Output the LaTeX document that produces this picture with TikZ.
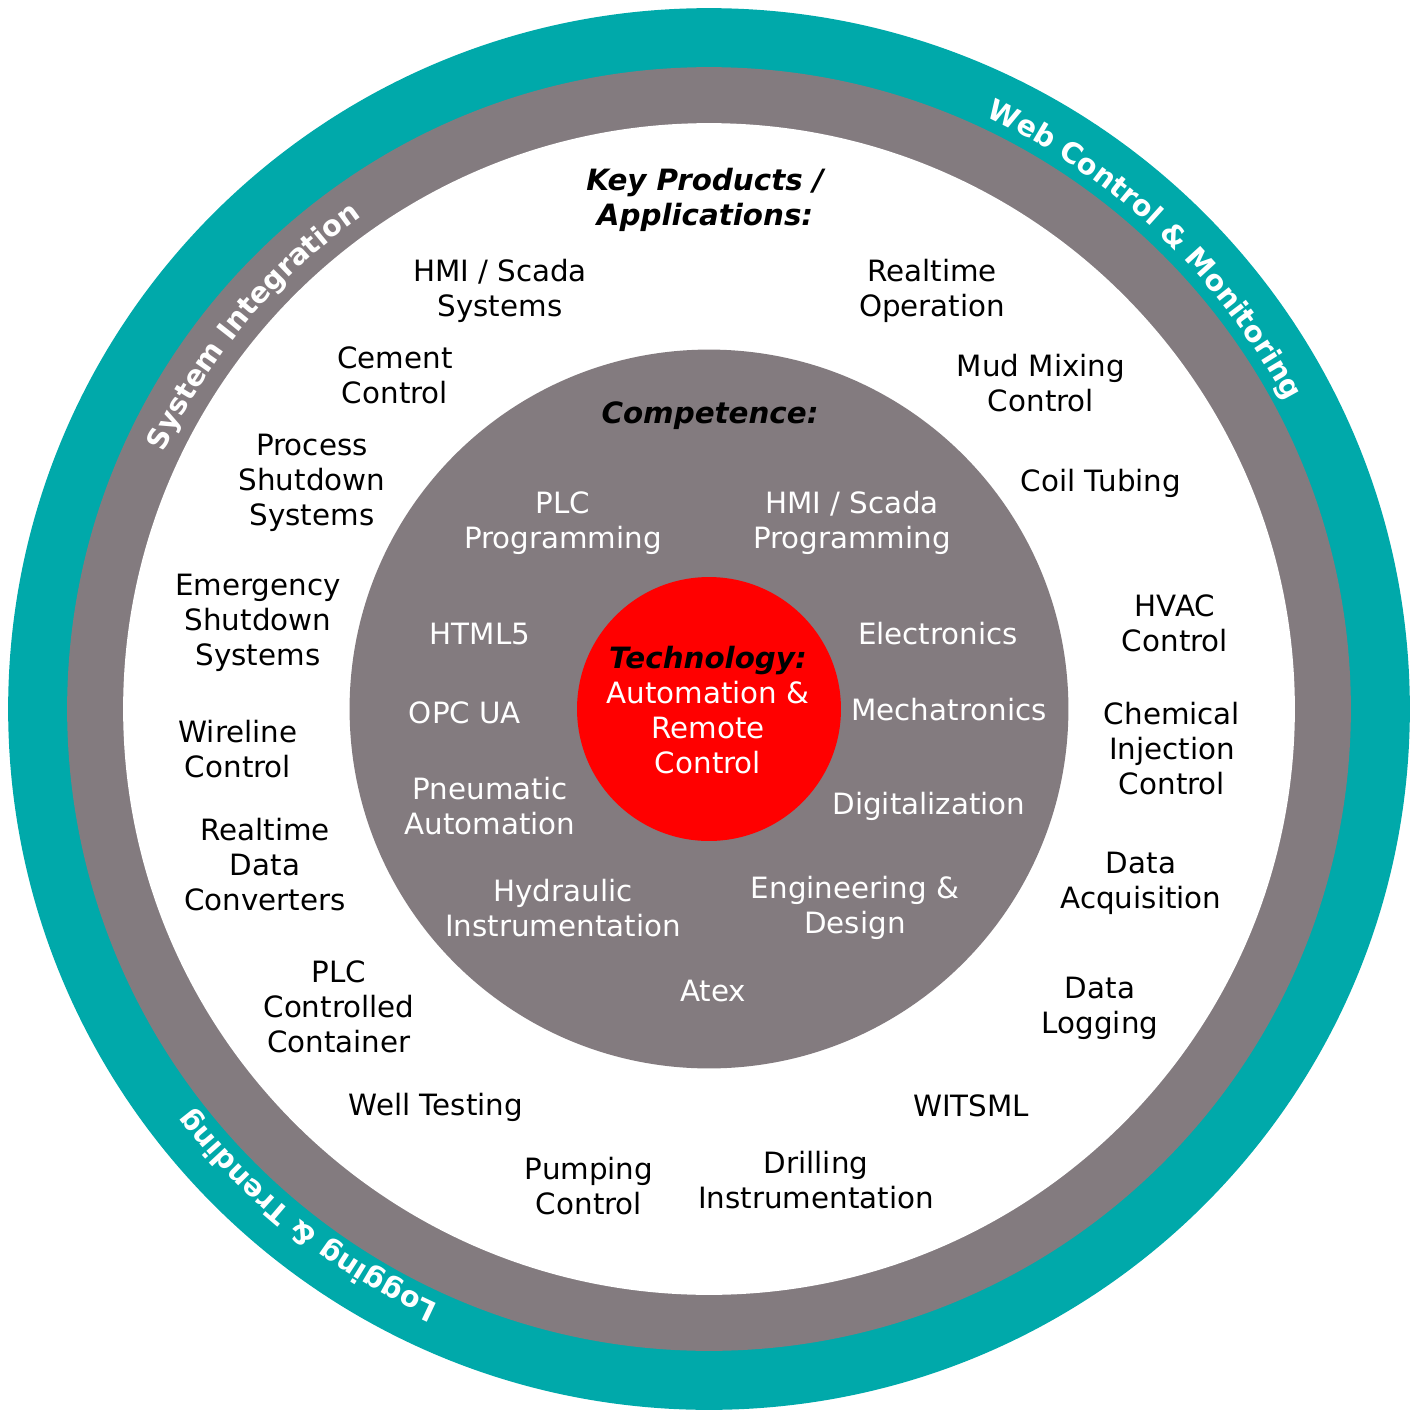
\documentclass[tikz,border=0pt]{standalone}
\usepackage{fontspec}
\setmainfont{DejaVu Sans}
\usetikzlibrary{decorations.text}
\definecolor{ringteal}{RGB}{0,169,170}
\definecolor{ringgray}{RGB}{131,123,127}
\definecolor{techred}{RGB}{255,0,0}
\newcommand\ringfont{\bfseries\fontsize{16.3}{19}\selectfont}
\begin{document}
\begin{tikzpicture}[x=0.02cm,y=-0.02cm,
  disc/.style={circle,draw=none,inner sep=0pt,outer sep=0pt},
  prod/.style={font=\fontsize{16.7}{19.9}\selectfont,align=center,inner sep=0pt,text=black},
  comp/.style={prod,text=white},
  head/.style={font=\fontsize{16.7}{19.9}\selectfont\bfseries\itshape,align=center,inner sep=0pt,text=black},
  ringtext/.style={decorate,decoration={text along path,text align=center,text color=white,text={#1}}}]
\useasboundingbox (0,0) rectangle (1417,1410);
\coordinate (C) at (709,709);
\node[disc,fill=ringteal,minimum size=28.04cm] (outer) at (C) {};
\node[disc,fill=ringgray,minimum size=25.68cm] (grayring) at (C) {};
\node[disc,fill=white,minimum size=23.44cm] (whitezone) at (C) {};
\node[disc,fill=ringgray,minimum size=14.38cm] (compdisc) at (C) {};
\node[disc,fill=techred,minimum size=5.28cm] (techdisc) at (C) {};

% ring texts
\path[ringtext={|\ringfont|Web Control {\&} Monitoring}] (C) ++(91.5:13.08cm) arc[start angle=91.5,end angle=1.5,radius=13.08cm];
\path[ringtext={|\ringfont|Logging {\&} Trending}] (C) ++(276.6:13.08cm) arc[start angle=276.6,end angle=186.6,radius=13.08cm];
\path[ringtext={|\ringfont|System Integration}] (C) ++(185:12.05cm) arc[start angle=185,end angle=95,radius=12.05cm];

% key products
\node[head] (kp) at (705,200) {Key Products /\\Applications:};
\node[prod] (p1) at (500,291) {HMI / Scada\\Systems};
\node[prod] (p2) at (932,291) {Realtime\\Operation};
\node[prod] (p3) at (395,375) {Cement\\Control};
\node[prod] (p4) at (1041,383) {Mud Mixing\\Control};
\node[prod] (p5) at (312,483) {Process\\Shutdown\\Systems};
\node[prod] (p6) at (1101,483) {Coil Tubing};
\node[prod] (p7) at (258,623) {Emergency\\Shutdown\\Systems};
\node[prod] (p8) at (1175,623) {HVAC\\Control};
\node[prod] (p9) at (238,749) {Wireline\\Control};
\node[prod] (p10) at (1172,749) {Chemical\\Injection\\Control};
\node[prod] (p11) at (265,865) {Realtime\\Data\\Converters};
\node[prod] (p12) at (1141,883) {Data\\Acquisition};
\node[prod] (p13) at (339,1007) {PLC\\Controlled\\Container};
\node[prod] (p14) at (1100,1008) {Data\\Logging};
\node[prod] (p15) at (436,1107) {Well Testing};
\node[prod] (p16) at (971,1106) {WITSML};
\node[prod] (p17) at (589,1186) {Pumping\\Control};
\node[prod] (p18) at (816,1180) {Drilling\\Instrumentation};

% competence
\node[head] (comphead) at (710,416) {Competence:};
\node[comp] (c1) at (563,523) {PLC\\Programming};
\node[comp] (c2) at (852,523) {HMI / Scada\\Programming};
\node[comp] (c3) at (480,634) {HTML5};
\node[comp] (c4) at (938,634) {Electronics};
\node[comp] (c5) at (465,713) {OPC UA};
\node[comp] (c6) at (949,710) {Mechatronics};
\node[comp] (c7) at (490,806) {Pneumatic\\Automation};
\node[comp] (c8) at (929,806) {Digitalization};
\node[comp] (c9) at (563,908) {Hydraulic\\Instrumentation};
\node[comp] (c10) at (855,908) {Engineering \&\\Design};
\node[comp] (c11) at (713,991) {Atex};

% technology
\node[comp] (tech) at (708,710) {\textcolor{black}{\bfseries\itshape Technology:}\\Automation \&\\Remote\\Control};
\end{tikzpicture}
\end{document}
